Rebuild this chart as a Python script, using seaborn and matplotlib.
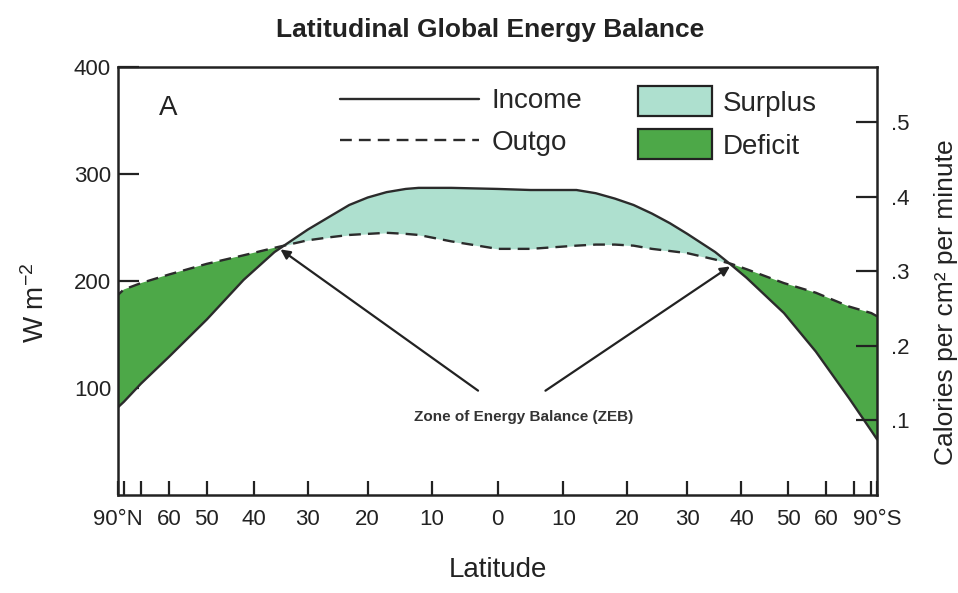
import numpy as np
import pandas as pd
import matplotlib
matplotlib.use("Agg")
import matplotlib.pyplot as plt
import seaborn as sns
from matplotlib.lines import Line2D
from matplotlib.patches import Patch

# Latitude (deg, north positive) and energy (W m-2)
lat = [90, 80, 70, 60, 50, 42, 36, 30, 26, 23, 20, 17, 14, 12, 7, 0,
       -5, -12, -15, -18, -21, -24, -27, -30, -35, -38, -41, -49, -57, -68, -80, -90]
income = [82, 87, 104, 129, 164, 201, 227, 248, 261, 271, 278, 283, 286, 287, 287, 286,
          285, 285, 282, 277, 271, 263, 254, 244, 227, 215, 203, 170, 134, 90, 60, 52]
outgo = [187, 192, 198, 206, 216, 224, 231, 238, 241, 243, 244, 245, 244, 243, 237, 230,
         230, 233, 234, 234, 233, 230, 228, 226, 220, 216, 211, 198, 189, 176, 170, 167]

xticks = [90, 80, 70, 60, 50, 40, 30, 20, 10, 0, -10, -20, -30, -40, -50, -60, -70, -80, -90]
xticklabels = ["90°N", "", "", "60", "50", "40", "30", "20", "10", "0",
               "10", "20", "30", "40", "50", "60", "", "", "90°S"]
yticks = [100, 200, 300, 400]
cal_ticks = [0.1, 0.2, 0.3, 0.4, 0.5]
W_PER_CAL = 697.3  # 1 cal cm-2 min-1 in W m-2

surplus_col = "#aee0cf"
deficit_col = "#4da848"
line_col = "#2b2b2b"

sns.set_theme(style="white")
narrow = ["Liberation Sans Narrow", "Liberation Sans", "DejaVu Sans"]
plt.rcParams["font.family"] = narrow
plt.rcParams["mathtext.default"] = "regular"

df = pd.DataFrame({
    "lat": lat * 2,
    "energy": income + outgo,
    "series": ["Income"] * len(lat) + ["Outgo"] * len(lat),
})

fig = plt.figure(figsize=(9.58, 5.93), dpi=100)
ax = fig.add_axes([0.1232, 0.1653, 0.7923, 0.7218])

# area-weighted latitude axis (sine of latitude)
ax.set_xscale("function", functions=(lambda x: np.sin(np.deg2rad(x)),
                                     lambda s: np.rad2deg(np.arcsin(np.clip(s, -1, 1)))))

inc = np.array(income)
out = np.array(outgo)
ax.fill_between(lat, inc, out, where=inc >= out, interpolate=True,
                color=surplus_col, lw=0)
ax.fill_between(lat, inc, out, where=inc <= out, interpolate=True,
                color=deficit_col, lw=0)

sns.lineplot(data=df, x="lat", y="energy", hue="series", style="series",
             palette={"Income": line_col, "Outgo": line_col},
             dashes={"Income": "", "Outgo": (5, 3)},
             linewidth=1.7, legend=False, ax=ax)

ax.set_xlim(90, -90)
ax.set_ylim(0, 400)
ax.set_xticks(xticks)
ax.set_xticklabels(xticklabels)
ax.set_yticks(yticks)
ax.minorticks_off()
ax.tick_params(axis="x", bottom=True, direction="in", length=10, width=1.6, color="#222",
               labelsize=16, pad=10, labelcolor="#222")
ax.tick_params(axis="y", left=True, direction="in", length=15, width=1.6, color="#222",
               labelsize=16, pad=5, labelcolor="#222")
for s in ax.spines.values():
    s.set_linewidth(1.8)
    s.set_color("#222")

ax.set_xlabel("Latitude", fontsize=20, color="#222")
ax.xaxis.set_label_coords(0.5, -0.145)
ax.set_ylabel(r"W m$^{-2}$", fontsize=20, color="#222")
ax.yaxis.set_label_coords(-0.09, 0.45)

# right axis in calories per cm2 per minute
ax2 = ax.twinx()
ax2.set_ylim(0, 400 / W_PER_CAL)
ax2.set_yticks(cal_ticks)
ax2.set_yticklabels([f"{v:.1f}"[1:] for v in cal_ticks])
ax2.tick_params(axis="y", right=True, direction="in", length=15, width=1.6, color="#222",
                labelsize=16, pad=10, labelcolor="#222")
ax2.set_ylabel("Calories per cm² per minute", fontsize=19, color="#222")
ax2.yaxis.set_label_coords(1.075, 0.45)
for s in ax2.spines.values():
    s.set_visible(False)

# legends
line_handles = [Line2D([], [], color=line_col, lw=1.7),
                Line2D([], [], color=line_col, lw=1.7, dashes=(5, 3))]
leg1 = ax.legend(line_handles, ["Income", "Outgo"], loc="upper left",
                 bbox_to_anchor=(0.2925, 0.95), frameon=False, fontsize=20,
                 handlelength=5.0, handletextpad=0.45, labelspacing=0.55,
                 borderpad=0, borderaxespad=0)
ax.add_artist(leg1)
patch_handles = [Patch(facecolor=surplus_col, edgecolor="#222", lw=1.6),
                 Patch(facecolor=deficit_col, edgecolor="#222", lw=1.6)]
ax.legend(patch_handles, ["Surplus", "Deficit"], loc="upper left",
          bbox_to_anchor=(0.685, 0.955), frameon=False, fontsize=20,
          handlelength=2.65, handleheight=1.3, handletextpad=0.4,
          labelspacing=0.45, borderpad=0, borderaxespad=0)

ax.text(0.066, 0.905, "A", transform=ax.transAxes, fontsize=20,
        ha="center", va="center", color="#222")

# Zone of Energy Balance arrows
arrow = dict(arrowstyle="-|>", color="#222", lw=1.6, mutation_scale=14)
ax.annotate("", xy=(35.3, 231), xytext=(2.6, 96), arrowprops=arrow)
ax.annotate("", xy=(-38.2, 215), xytext=(-6.9, 96), arrowprops=arrow)
ax.text(-3.9, 73, "Zone of Energy Balance (ZEB)", fontsize=11, fontweight="bold",
        family=["Liberation Sans", "DejaVu Sans"], ha="center", va="center", color="#333")

fig.text(0.512, 1 - 30 / 593, "Latitudinal Global Energy Balance", fontsize=19,
         fontweight="bold", family=["Liberation Sans", "DejaVu Sans"],
         ha="center", va="center", color="#222")

fig.savefig("out.png", dpi=100)
